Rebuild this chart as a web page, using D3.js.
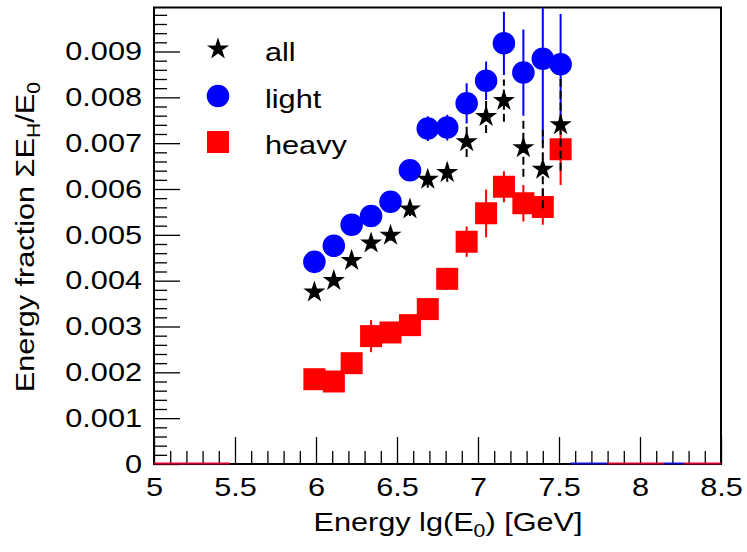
<!DOCTYPE html>
<html>
<head>
<meta charset="utf-8">
<script src="https://cdn.jsdelivr.net/npm/d3@7"></script>
<style>
  body { margin: 0; background: #fff; }
  text { font-family: "Liberation Sans", Arial, Helvetica, sans-serif; }
</style>
</head>
<body>
<script>
// bin centres in lg(E0/GeV)
var lgE = [5.99, 6.11, 6.22, 6.34, 6.46, 6.58, 6.69, 6.81, 6.93, 7.05, 7.16, 7.28, 7.40, 7.51];

// energy fraction (x 1e-3)
var allFrac    = [3.75, 4.00, 4.44, 4.82, 4.99, 5.56, 6.21, 6.36, 7.03, 7.58, 7.93, 6.90, 6.43, 7.40];
var allErr     = [0.10, 0.10, 0.10, 0.12, 0.12, 0.15, 0.18, 0.20, 0.33, 0.36, 0.46, 0.63, 0.85, 1.00];
var lightFrac  = [4.41, 4.76, 5.22, 5.41, 5.72, 6.41, 7.32, 7.34, 7.87, 8.36, 9.18, 8.54, 8.84, 8.72];
var lightErr   = [0.10, 0.10, 0.12, 0.12, 0.15, 0.18, 0.27, 0.28, 0.44, 0.42, 0.69, 0.94, 1.84, 1.10];
var heavyFrac  = [1.85, 1.80, 2.20, 2.79, 2.87, 3.03, 3.38, 4.04, 4.85, 5.47, 6.05, 5.69, 5.61, 6.87];
var heavyErr   = [0.10, 0.10, 0.15, 0.35, 0.20, 0.20, 0.22, 0.24, 0.33, 0.52, 0.34, 0.40, 0.39, 0.78];

// empty bins drawn at zero
var zeroFrom  = [5.00, 7.57, 7.80, 8.15, 8.27];
var zeroTo    = [5.47, 7.80, 8.15, 8.27, 8.50];
var zeroColor = ["#d0002c", "#1010d0", "#d0002c", "#1010d0", "#d0002c"];

var xMajor = [5, 5.5, 6, 6.5, 7, 7.5, 8, 8.5];
var yMajor = [0, 0.001, 0.002, 0.003, 0.004, 0.005, 0.006, 0.007, 0.008, 0.009];

var width = 747, height = 552;
var fLeft = 154, fRight = 721, fTop = 7.5, fBottom = 464;
var sx = 1.18; // text is drawn wider than Arial

var svg = d3.select("body").append("svg")
    .attr("width", width)
    .attr("height", height);

var x = d3.scaleLinear().domain([5, 8.5]).range([fLeft, fRight]);
var y = d3.scaleLinear().domain([0, 0.00996]).range([fBottom, fTop]);

svg.append("clipPath").attr("id", "clip")
  .append("rect")
    .attr("x", fLeft).attr("y", fTop)
    .attr("width", fRight - fLeft).attr("height", fBottom - fTop);

// axes
var xMinor = d3.range(50, 86).map(function(d) { return d / 10; })
    .filter(function(d) { return Math.abs(d * 2 - Math.round(d * 2)) > 1e-6; });
var yMinor = d3.range(0, 50).map(function(d) { return d * 0.0002; })
    .filter(function(d) { return Math.abs(d * 1000 - Math.round(d * 1000)) > 1e-6; });

svg.append("g")
    .attr("transform", "translate(0," + fBottom + ")")
    .call(d3.axisBottom(x).tickValues(xMinor).tickSize(-13).tickFormat(""))
    .call(function(g) { g.select(".domain").remove(); });

var xAxis = svg.append("g")
    .attr("transform", "translate(0," + fBottom + ")")
    .call(d3.axisBottom(x).tickValues(xMajor).tickSize(-27).tickPadding(14)
      .tickFormat(function(d) { return String(d); }));
xAxis.select(".domain").remove();
xAxis.selectAll("text")
    .attr("font-size", 26)
    .attr("fill", "#000")
    .attr("font-family", "Liberation Sans, Arial, sans-serif")
    .attr("transform", "scale(" + sx + ",1)");

svg.append("g")
    .attr("transform", "translate(" + fLeft + ",0)")
    .call(d3.axisLeft(y).tickValues(yMinor).tickSize(-13).tickFormat(""))
    .call(function(g) { g.select(".domain").remove(); });

var yAxis = svg.append("g")
    .attr("transform", "translate(" + fLeft + ",0)")
    .call(d3.axisLeft(y).tickValues(yMajor).tickSize(-26).tickPadding(12)
      .tickFormat(function(d) { return d === 0 ? "0" : d3.format(".3f")(d); }));
yAxis.select(".domain").remove();
yAxis.selectAll("text")
    .attr("font-size", 26)
    .attr("fill", "#000")
    .attr("font-family", "Liberation Sans, Arial, sans-serif")
    .attr("x", -12 / sx)
    .attr("transform", "scale(" + sx + ",1)");

svg.selectAll(".tick line").attr("stroke", "#000").attr("stroke-width", 1.3);

// frame
svg.append("rect")
    .attr("x", fLeft).attr("y", fTop)
    .attr("width", fRight - fLeft).attr("height", fBottom - fTop)
    .attr("fill", "none")
    .attr("stroke", "#000")
    .attr("stroke-width", 2);

// zero bins
svg.append("g").selectAll("line")
    .data(zeroFrom)
    .enter().append("line")
      .attr("x1", function(d) { return x(d); })
      .attr("x2", function(d, i) { return x(zeroTo[i]); })
      .attr("y1", y(0) - 0.5)
      .attr("y2", y(0) - 0.5)
      .attr("stroke", function(d, i) { return zeroColor[i]; })
      .attr("stroke-width", 2);

var plot = svg.append("g").attr("clip-path", "url(#clip)");

function drawSeries(vals, errs, color, symbol, size, dash) {
  var g = plot.append("g");
  g.selectAll("line")
    .data(vals)
    .enter().append("line")
      .attr("x1", function(d, i) { return x(lgE[i]); })
      .attr("x2", function(d, i) { return x(lgE[i]); })
      .attr("y1", function(d, i) { return y((d - errs[i]) / 1000); })
      .attr("y2", function(d, i) { return y((d + errs[i]) / 1000); })
      .attr("stroke", color)
      .attr("stroke-width", 2)
      .attr("stroke-dasharray", dash);
  g.selectAll("path")
    .data(vals)
    .enter().append("path")
      .attr("d", d3.symbol().type(symbol).size(size))
      .attr("transform", function(d, i) {
        return "translate(" + x(lgE[i]) + "," + y(d / 1000) + ")";
      })
      .attr("fill", color);
}

var starSize = 152, circleSize = 400, squareSize = 484;

drawSeries(heavyFrac, heavyErr, "#ff0000", d3.symbolSquare, squareSize, null);
drawSeries(lightFrac, lightErr, "#0000ff", d3.symbolCircle, circleSize, null);
drawSeries(allFrac, allErr, "#000000", d3.symbolStar, starSize, "8,4");

// legend
var legNames = ["all", "light", "heavy"];
var legColors = ["#000000", "#0000ff", "#ff0000"];
var legSymbols = [d3.symbolStar, d3.symbolCircle, d3.symbolSquare];
var legSizes = [starSize, circleSize, squareSize];
var legY = [49, 96, 142];

var leg = svg.append("g");
leg.selectAll("path")
  .data(legNames)
  .enter().append("path")
    .attr("d", function(d, i) { return d3.symbol().type(legSymbols[i]).size(legSizes[i])(); })
    .attr("transform", function(d, i) { return "translate(218," + legY[i] + ")"; })
    .attr("fill", function(d, i) { return legColors[i]; });
leg.selectAll("text")
  .data(legNames)
  .enter().append("text")
    .attr("x", 265 / sx)
    .attr("y", function(d, i) { return legY[i] + 12; })
    .attr("transform", "scale(" + sx + ",1)")
    .attr("font-size", 26)
    .text(function(d) { return d; });

// axis titles
var xt = svg.append("text")
    .attr("transform", "translate(448,531) scale(" + sx + ",1)")
    .attr("text-anchor", "middle")
    .attr("font-size", 26);
xt.append("tspan").text("Energy lg(E");
xt.append("tspan").attr("font-size", 18).attr("dy", 6).text("0");
xt.append("tspan").attr("dy", -6).text(") [GeV]");

var yt = svg.append("text")
    .attr("transform", "translate(34,237) rotate(-90) scale(" + sx + ",1)")
    .attr("text-anchor", "middle")
    .attr("font-size", 26);
yt.append("tspan").text("Energy fraction \u03A3E");
yt.append("tspan").attr("font-size", 18).attr("dy", 6).text("H");
yt.append("tspan").attr("dy", -6).text("/E");
yt.append("tspan").attr("font-size", 18).attr("dy", 6).text("0");
</script>
</body>
</html>
